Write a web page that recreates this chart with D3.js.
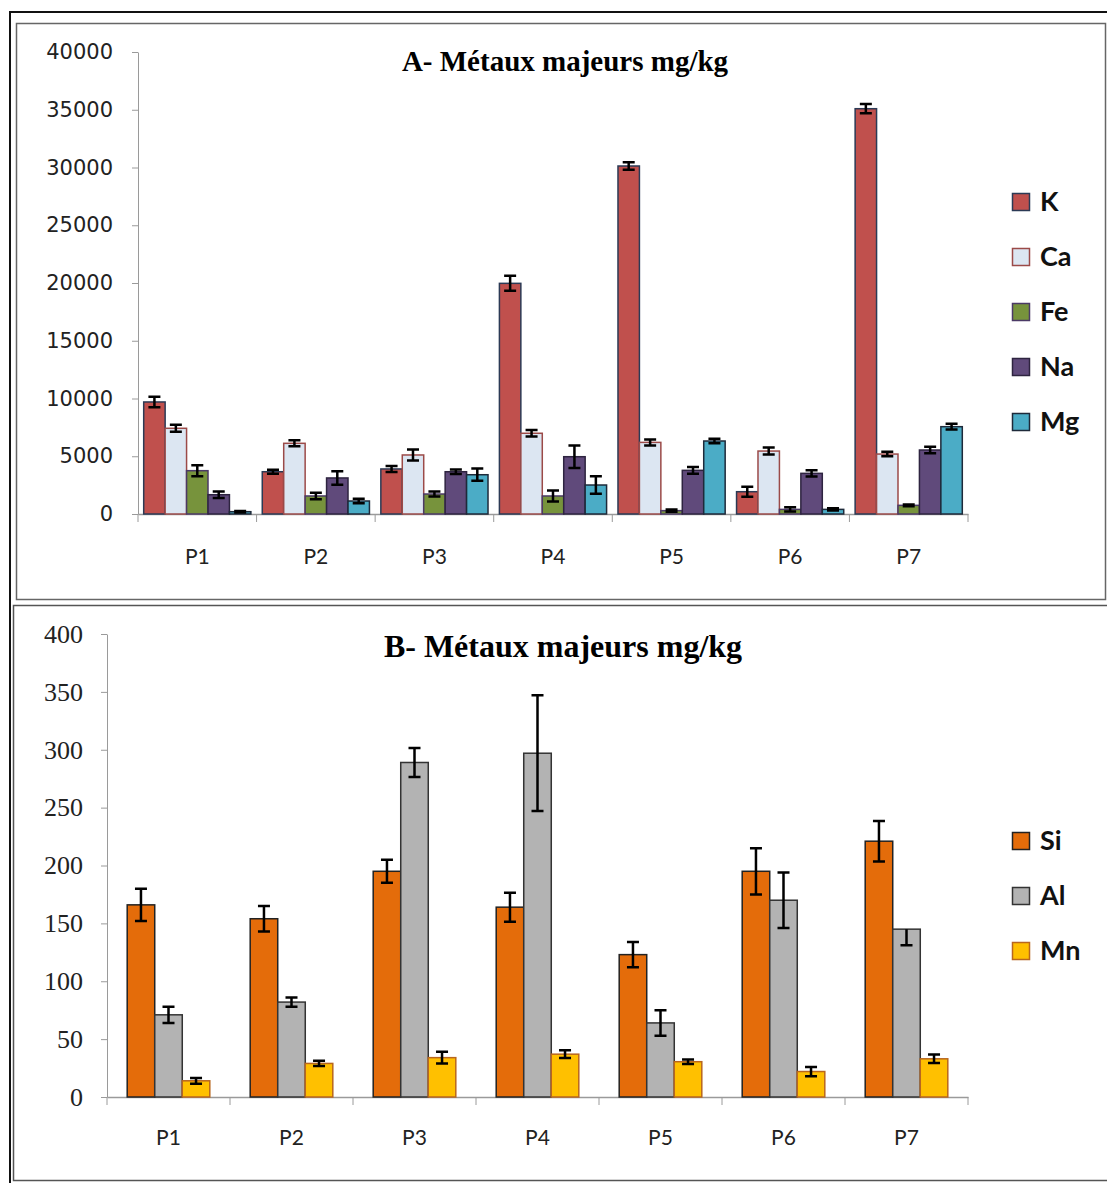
<!DOCTYPE html>
<html>
<head>
<meta charset="utf-8">
<script src="https://cdn.jsdelivr.net/npm/d3@7"></script>
<style>
	body { margin: 0; background: #fff; }
	svg { display: block; }
</style>
</head>
<body>
<svg id="chart" width="1107" height="1183"></svg>
<script>
// sites
const sites		= ['P1', 'P2', 'P3', 'P4', 'P5', 'P6', 'P7'];

// A - major metals (mg/kg)
const kVals		= [9700, 3660, 3900, 19970, 30130, 1930, 35090];
const kErr		= [450, 170, 260, 650, 330, 430, 400];
const caVals	= [7420, 6120, 5110, 6990, 6200, 5450, 5190];
const caErr		= [300, 260, 480, 290, 260, 300, 190];
const feVals	= [3750, 1560, 1730, 1560, 290, 400, 750];
const feErr		= [480, 290, 220, 475, 100, 190, 70];
const naVals	= [1670, 3120, 3660, 4960, 3780, 3520, 5540];
const naErr		= [280, 590, 200, 980, 290, 275, 290];
const mgVals	= [200, 1125, 3400, 2510, 6320, 400, 7560];
const mgErr		= [60, 200, 530, 750, 190, 100, 250];
const ticksA	= [0, 5000, 10000, 15000, 20000, 25000, 30000, 35000, 40000];

// B - major metals (mg/kg)
const siVals	= [166, 154, 195, 164, 123, 195, 221];
const siErr		= [14, 11, 10, 12.5, 11, 20, 17.5];
const alVals	= [71, 82, 289, 297, 64, 170, 145];
const alErr		= [7, 4, 12.5, 50, 11, 24, 14];
const alErrUp	= [7, 4, 12.5, 50, 11, 24, 0];
const mnVals	= [14, 29, 34, 37, 30.5, 22, 33];
const mnErr		= [2.5, 2.3, 5, 3.3, 1.9, 4, 3.7];
const ticksB	= [0, 50, 100, 150, 200, 250, 300, 350, 400];

let svg = d3.select('#chart');

// frames
svg.append('rect').attr('x', 10).attr('y', 12).attr('width', 1200).attr('height', 1200)
	.attr('fill', 'none').attr('stroke', '#111').attr('stroke-width', 2);
svg.append('rect').attr('x', 16.5).attr('y', 23.5).attr('width', 1089).attr('height', 576)
	.attr('fill', '#fff').attr('stroke', '#666').attr('stroke-width', 1.5);
svg.append('rect').attr('x', 13.5).attr('y', 605.5).attr('width', 1110).attr('height', 575)
	.attr('fill', '#fff').attr('stroke', '#555').attr('stroke-width', 1.5);

function drawPanel(p) {
	let x = d3.scaleBand().domain(sites).range([p.left, p.right]);
	let y = d3.scaleLinear().domain([0, d3.max(p.ticks)]).range([p.bottom, p.top]);
	let xs = d3.scaleBand().domain(p.series.map((s) => (s.name)))
		.range([p.groupPad, x.bandwidth() - p.groupPad]);

	let g = svg.append('g');

	// y axis
	let yAxis = g.append('g')
		.attr('transform', 'translate(' + p.left + ',0)')
		.call(d3.axisLeft(y).tickValues(p.ticks).tickFormat(d3.format('d'))
			.tickSize(6).tickPadding(p.tickPad).tickSizeOuter(0));
	yAxis.selectAll('line, path').attr('stroke', '#9a9a9a');
	yAxis.selectAll('text')
		.attr('font-family', p.tickFont).attr('font-size', p.tickSize).attr('fill', '#222');

	// x axis
	let xAxis = g.append('g')
		.attr('transform', 'translate(0,' + p.bottom + ')')
		.call(d3.axisBottom(x).tickSize(0).tickPadding(p.labelPad).tickSizeOuter(0));
	xAxis.select('path').attr('stroke', '#9a9a9a').attr('stroke-width', 1.5);
	xAxis.selectAll('text')
		.attr('font-family', 'Lato, "Open Sans", sans-serif').attr('font-size', 21).attr('fill', '#222');
	xAxis.selectAll('.sep')
		.data(sites.concat(['end'])).enter().append('line')
			.attr('class', 'sep')
			.attr('x1', (d, i) => (p.left + i * x.bandwidth()))
			.attr('x2', (d, i) => (p.left + i * x.bandwidth()))
			.attr('y1', 0).attr('y2', 8)
			.attr('stroke', '#9a9a9a');

	// bars
	p.series.forEach((s) => {
		let grp = g.selectAll('.bar-' + s.name)
			.data(sites).enter().append('g')
				.attr('transform', (d) => ('translate(' + (x(d) + xs(s.name)) + ',0)'));

		grp.append('rect')
			.attr('y', (d, i) => (y(s.vals[i])))
			.attr('width', xs.bandwidth())
			.attr('height', (d, i) => (p.bottom - y(s.vals[i])))
			.attr('fill', s.color)
			.attr('stroke', s.stroke)
			.attr('stroke-width', 1.5);

		let cx = xs.bandwidth() / 2;
		let up = s.errUp || s.err;
		grp.append('path')
			.attr('d', (d, i) => {
				let y0 = y(s.vals[i] - s.err[i]);
				let y1 = y(s.vals[i] + up[i]);
				let w = p.cap / 2;
				let str = 'M' + cx + ',' + y0 + 'V' + y1 +
					'M' + (cx - w) + ',' + y0 + 'H' + (cx + w);
				if (up[i] > 0) str += 'M' + (cx - w) + ',' + y1 + 'H' + (cx + w);
				return str;
			})
			.attr('fill', 'none')
			.attr('stroke', '#000')
			.attr('stroke-width', 2.5);
	});

	// title
	g.append('text')
		.attr('x', p.titleX).attr('y', p.titleY)
		.attr('text-anchor', 'middle')
		.attr('font-family', '"Liberation Serif", "Times New Roman", serif')
		.attr('font-weight', 'bold')
		.attr('font-size', p.titleSize)
		.text(p.title);

	// legend
	let leg = g.selectAll('.legend')
		.data(p.series).enter().append('g')
			.attr('transform', (d, i) => ('translate(1012,' + (p.legendY + i * 55) + ')'));
	leg.append('rect')
		.attr('x', 0.5).attr('y', -8.5).attr('width', 17).attr('height', 17)
		.attr('fill', (d) => (d.color)).attr('stroke', (d) => (d.stroke)).attr('stroke-width', 1.5);
	leg.append('text')
		.attr('x', 28).attr('y', 9)
		.attr('font-family', 'Lato, "Open Sans", sans-serif')
		.attr('font-weight', 'bold')
		.attr('font-size', 27)
		.attr('fill', '#111')
		.text((d) => (d.name));
}

drawPanel({
	left: 138, right: 968, top: 52, bottom: 514,
	ticks: ticksA, groupPad: 5.7, cap: 12,
	tickFont: '"DejaVu Sans", Verdana, sans-serif', tickSize: 21, tickPad: 19, labelPad: 35,
	title: 'A- Métaux majeurs mg/kg', titleX: 565, titleY: 71, titleSize: 29,
	legendY: 202,
	series: [
		{ name: 'K', vals: kVals, err: kErr, color: '#C0504D', stroke: '#2b3a55' },
		{ name: 'Ca', vals: caVals, err: caErr, color: '#DCE6F2', stroke: '#9b4a48' },
		{ name: 'Fe', vals: feVals, err: feErr, color: '#77933C', stroke: '#4b3a66' },
		{ name: 'Na', vals: naVals, err: naErr, color: '#604A7B', stroke: '#2e2440' },
		{ name: 'Mg', vals: mgVals, err: mgErr, color: '#4BACC6', stroke: '#1e2a3a' }
	]
});

drawPanel({
	left: 107, right: 968, top: 634, bottom: 1097,
	ticks: ticksB, groupPad: 20.2, cap: 12,
	tickFont: '"Liberation Serif", "Times New Roman", serif', tickSize: 26, tickPad: 18, labelPad: 33,
	title: 'B- Métaux majeurs mg/kg', titleX: 563, titleY: 657, titleSize: 32,
	legendY: 841,
	series: [
		{ name: 'Si', vals: siVals, err: siErr, color: '#E46C0A', stroke: '#222' },
		{ name: 'Al', vals: alVals, err: alErr, errUp: alErrUp, color: '#B3B3B3', stroke: '#333' },
		{ name: 'Mn', vals: mnVals, err: mnErr, color: '#FFC000', stroke: '#b8661e' }
	]
});
</script>
</body>
</html>
